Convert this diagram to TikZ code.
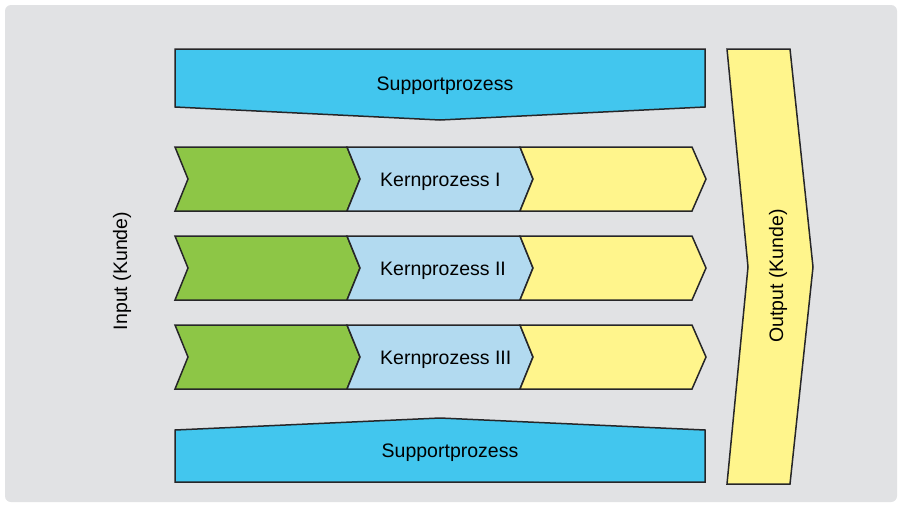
\documentclass[tikz,border=0pt]{standalone}
\usepackage{fontspec}
\setmainfont{Liberation Sans}
\definecolor{bgc}{RGB}{225,226,228}
\definecolor{supblue}{RGB}{66,198,238}
\definecolor{kgreen}{RGB}{141,198,70}
\definecolor{klblue}{RGB}{178,218,240}
\definecolor{kyellow}{RGB}{255,245,140}
\definecolor{outline}{RGB}{38,38,40}
\begin{document}
\begin{tikzpicture}[x=1pt,y=-1pt,
  shp/.style={draw=outline, line width=1.5pt, line join=miter},
  lbl/.style={font=\fontsize{19.5}{23}\selectfont, inner sep=0pt, text=black}]
\path[use as bounding box] (0,0) rectangle (902,507);
\fill[white] (0,0) rectangle (902,507);
\fill[bgc, rounded corners=6pt] (5,5) rectangle (897,502);
% support processes
\draw[shp, fill=supblue] (175,49) -- (705,49) -- (705,107) -- (440,120) -- (175,107) -- cycle;
\draw[shp, fill=supblue] (175,430) -- (440,418) -- (705,430) -- (705,482) -- (175,482) -- cycle;
% output arrow
\draw[shp, fill=kyellow] (727,49) -- (790,49) -- (813,267) -- (790,484) -- (727,484) -- (748,267) -- cycle;
% core process rows
\foreach \t/\lab/\nm in {147/Kernprozess I/k1, 236/Kernprozess II/k2, 325/Kernprozess III/k3}{
  \pgfmathsetmacro{\b}{\t+64}
  \pgfmathsetmacro{\m}{\t+32}
  \pgfmathsetmacro{\bl}{\t+39}
  \draw[shp, fill=kgreen] (175,\t) -- (347,\t) -- (360,\m) -- (347,\b) -- (175,\b) -- (188,\m) -- cycle;
  \draw[shp, fill=klblue] (347,\t) -- (520,\t) -- (533,\m) -- (520,\b) -- (347,\b) -- (360,\m) -- cycle;
  \draw[shp, fill=kyellow] (520,\t) -- (692,\t) -- (706,\m) -- (692,\b) -- (520,\b) -- (533,\m) -- cycle;
  \node[lbl, anchor=base west] (\nm) at (380,\bl) {\lab};
}
\node[lbl, anchor=base] (sup1) at (445,90.5) {Supportprozess};
\node[lbl, anchor=base] (sup2) at (450,457) {Supportprozess};
\node[lbl, rotate=90] (inp) at (122,271) {Input (Kunde)};
\node[lbl, rotate=90] (outp) at (778,276) {Output (Kunde)};
\end{tikzpicture}
\end{document}
